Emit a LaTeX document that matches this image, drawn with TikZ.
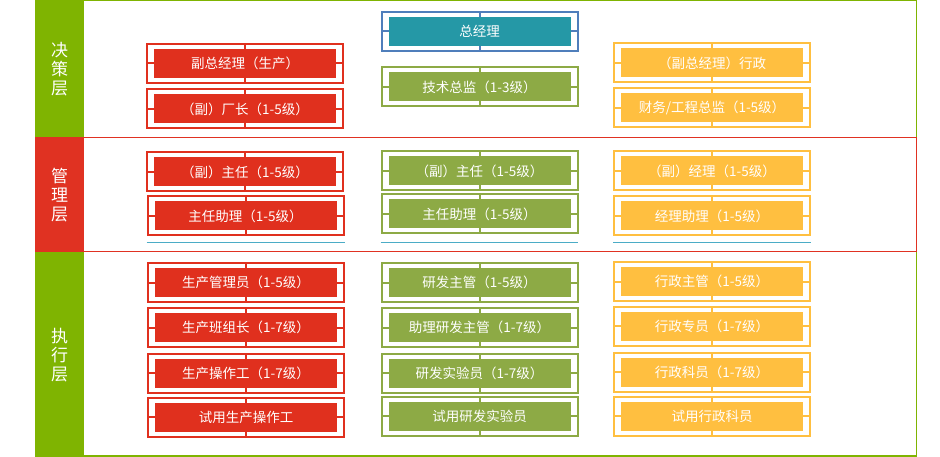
\documentclass[tikz,border=0pt]{standalone}
\usepackage{fontspec}
\newfontfamily\cjk{Noto Sans CJK SC}
\definecolor{bandgreen}{HTML}{7FB401}
\definecolor{bandred}{HTML}{E03222}
\definecolor{postred}{HTML}{E0301E}
\definecolor{postteal}{HTML}{2598A6}
\definecolor{postblue}{HTML}{4F7EBB}
\definecolor{postgreen}{HTML}{8DAA45}
\definecolor{postyellow}{HTML}{FFBF40}
\definecolor{lineblue}{HTML}{4BACC6}
\tikzset{
  post/.style 2 args={draw=#1,line width=2pt,minimum width=196pt,minimum height=39pt,
    inner sep=0pt,text=white,font=\cjk\fontsize{13.5}{15}\selectfont,
    path picture={
      \draw[#1,line width=2pt] (path picture bounding box.north) -- (path picture bounding box.south)
        (path picture bounding box.west) -- (path picture bounding box.east);
      \fill[#2] ([shift={(-91pt,-14.5pt)}]path picture bounding box.center)
        rectangle ([shift={(91pt,14.5pt)}]path picture bounding box.center);}},
  redpost/.style={post={postred}{postred}},
  greenpost/.style={post={postgreen}{postgreen}},
  yellowpost/.style={post={postyellow}{postyellow}},
  layer/.style={fill=#1,text=white,minimum width=49pt,inner sep=0pt,align=center,
    font=\cjk\fontsize{17}{19}\selectfont}
}
\begin{document}
\begin{tikzpicture}[x=1pt,y=-1pt]
  \useasboundingbox (0,0) rectangle (940,457);
  %% layers
  \fill[bandgreen] (35,0) rectangle (84,137);
  \fill[bandred] (35,137) rectangle (84,252);
  \fill[bandgreen] (35,252) rectangle (84,457);
  \node[layer=bandgreen] (jc) at (59.5,69) {决\\策\\层};
  \node[layer=bandred] (gl) at (59.5,195) {管\\理\\层};
  \node[layer=bandgreen] (zx) at (59.5,355) {执\\行\\层};
  %% frames
  \draw[bandgreen,line width=1.5pt] (84,0.75) -- (916.5,0.75) -- (916.5,137);
  \draw[bandred,line width=1pt] (84,137.5) -- (916.5,137.5) -- (916.5,252) -- (84,252);
  \draw[bandgreen,line width=1.5pt] (916.5,252.5) -- (916.5,456) -- (35,456);
  %% decision layer
  \node[post={postblue}{postteal}] (zjl) at (479.5,31.5) {总经理};
  \node[redpost] (fzjl-sc) at (245,63.5) {副总经理（生产）};
  \node[redpost] (cz) at (245,109) {（副）厂长（1-5级）};
  \node[greenpost] (jszj) at (479.5,87) {技术总监（1-3级）};
  \node[yellowpost] (fzjl-xz) at (712,63) {（副总经理）行政};
  \node[yellowpost] (cwzj) at (712,108) {财务/工程总监（1-5级）};
  %% management layer
  \node[redpost] (zr-sc) at (245,172) {（副）主任（1-5级）};
  \node[redpost] (zrzl-sc) at (245.5,216) {主任助理（1-5级）};
  \node[greenpost] (zr-yf) at (479.5,171) {（副）主任（1-5级）};
  \node[greenpost] (zrzl-yf) at (479.5,214) {主任助理（1-5级）};
  \node[yellowpost] (jl) at (712,171) {（副）经理（1-5级）};
  \node[yellowpost] (jlzl) at (712,216) {经理助理（1-5级）};
  \draw[lineblue,line width=1pt] (zrzl-sc.south west) ++(0,6) -- ++(198,0);
  \draw[lineblue,line width=1pt] (zrzl-yf.south west) ++(0,8) -- ++(197,0);
  \draw[lineblue,line width=1pt] (jlzl.south west) ++(0,6) -- ++(198,0);
  %% execution layer
  \node[redpost] (scgly) at (246,282.5) {生产管理员（1-5级）};
  \node[redpost] (scbzz) at (246,327.5) {生产班组长（1-7级）};
  \node[redpost] (sczgz) at (246,373) {生产操作工（1-7级）};
  \node[redpost] (sysc) at (246,417) {试用生产操作工};
  \node[greenpost] (yfzg) at (479.5,282.5) {研发主管（1-5级）};
  \node[greenpost] (zlyfzg) at (479.5,327.5) {助理研发主管（1-7级）};
  \node[greenpost] (yfsyy) at (479.5,373) {研发实验员（1-7级）};
  \node[greenpost] (syyf) at (479.5,416) {试用研发实验员};
  \node[yellowpost] (xzzg) at (712,281.5) {行政主管（1-5级）};
  \node[yellowpost] (xzzy) at (712,326) {行政专员（1-7级）};
  \node[yellowpost] (xzky) at (712,372) {行政科员（1-7级）};
  \node[yellowpost] (syxz) at (712,416) {试用行政科员};
\end{tikzpicture}
\end{document}
